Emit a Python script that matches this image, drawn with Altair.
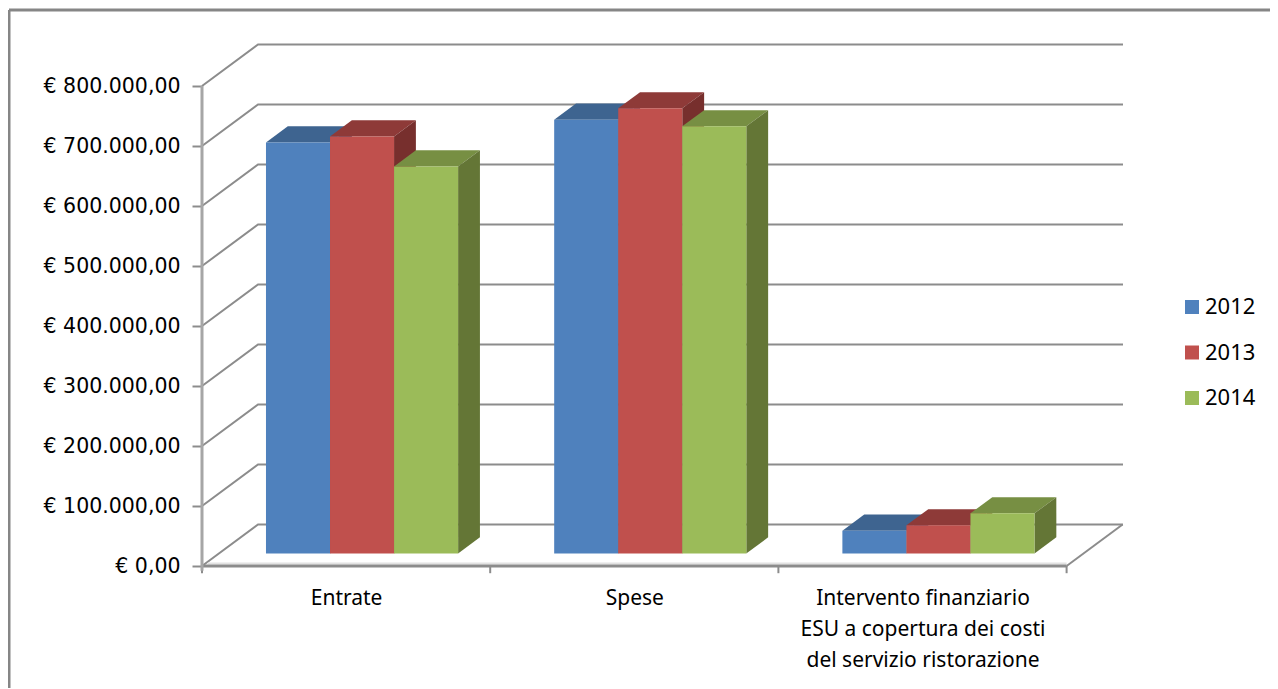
import altair as alt
import pandas as pd

categories = ["Entrate", "Spese", "Intervento finanziario|ESU a copertura dei costi|del servizio ristorazione"]
years = ["2012", "2013", "2014"]
values_2012 = [685000, 723000, 38000]
values_2013 = [695000, 742000, 47000]
values_2014 = [645000, 712000, 67000]
y_ticks = [0, 100000, 200000, 300000, 400000, 500000, 600000, 700000, 800000]
front_colors = ["#4F81BD", "#C0504D", "#9BBB59"]
top_colors = ["#3E6490", "#8E3A38", "#778F43"]
side_colors = ["#375A84", "#772F2D", "#647636"]

FONT = "Noto Sans"
GRID = "#8C8C8C"
PLOT_W, PLOT_H = 921, 522
CAT_PX = 288.2
X_MAX = PLOT_W / CAT_PX
Y_MAX = 870000
# oblique projection of the depth axis, in data units
DX = 56 / CAT_PX
DY = 41.5 / 0.0006
BAR_D0, BAR_D1 = 0.30, 0.69
BAR_START, BAR_W = 0.222, 0.2222

series = [values_2012, values_2013, values_2014]

x_scale = alt.Scale(domain=[0, X_MAX], nice=False, zero=False)
y_scale = alt.Scale(domain=[0, Y_MAX], nice=False, zero=False)
X = alt.X("x:Q", scale=x_scale, title=None,
          axis=alt.Axis(values=[0.5, 1.5, 2.5], ticks=False, domain=False, grid=False,
                        labelFont=FONT, labelFontSize=21, labelColor="#000000", labelPadding=21,
                        labelLineHeight=31, labelAngle=0, labelOverlap=False, labelLimit=500,
                        labelExpr="split(" + repr(categories) + "[floor(datum.value)], '|')"))
Y = alt.Y("y:Q", scale=y_scale, title=None,
          axis=alt.Axis(values=y_ticks, domain=False, grid=False, tickColor=GRID, tickWidth=2, tickSize=10,
                        labelFont="DejaVu Sans", labelFontSize=20.5, labelColor="#000000", labelPadding=12,
                        labelLimit=300,
                        labelExpr="datum.value == 0 ? '€ 0,00' : '€ ' + datum.value / 1000 + '.000,00'"))

fronts, face_layers, grid_rows = [], [], []
for c in range(len(categories)):
    for s, year in enumerate(years):
        v = series[s][c]
        x0 = c + BAR_START + s * BAR_W
        x1 = x0 + BAR_W
        base = BAR_D0 * DY
        top = v + base
        fx = (BAR_D1 - BAR_D0) * DX
        fy = (BAR_D1 - BAR_D0) * DY
        fronts.append(dict(year=year, x=x0, x2=x1, y=base, y2=top))
        top_face = pd.DataFrame([
            dict(x=x0, y=top, lo=top),
            dict(x=x0 + fx, y=top + fy, lo=top),
            dict(x=x1, y=top + fy, lo=top),
            dict(x=x1 + fx, y=top + fy, lo=top + fy),
        ])
        side_face = pd.DataFrame([
            dict(x=x1, y=top, lo=base),
            dict(x=x1 + fx, y=top + fy, lo=base + fy),
        ])
        face_layers.append(alt.Chart(top_face).mark_area(color=top_colors[s], interpolate="linear").encode(x=X, y=Y, y2="lo:Q"))
        face_layers.append(alt.Chart(side_face).mark_area(color=side_colors[s], interpolate="linear").encode(x=X, y=Y, y2="lo:Q"))

for t in y_ticks:
    grid_rows += [
        dict(t=t, x=0, y=t, o=0),
        dict(t=t, x=DX, y=t + DY, o=1),
        dict(t=t, x=X_MAX, y=t + DY, o=2),
    ]

grid = alt.Chart(pd.DataFrame(grid_rows)).mark_line(color=GRID, strokeWidth=2, interpolate="linear").encode(
    x=X, y=Y, detail="t:N", order="o:Q")

floor_right = alt.Chart(pd.DataFrame([dict(x=3, y=0, o=0), dict(x=3 + DX, y=DY, o=1)])).mark_line(
    color=GRID, strokeWidth=2).encode(x=X, y=Y, order="o:Q")

floor_band = alt.Chart(pd.DataFrame([dict(x=0.02, x2=3, y=4000)])).mark_rule(color="#E2E2E2", strokeWidth=2).encode(
    x=X, x2="x2:Q", y=Y)
floor_front = alt.Chart(pd.DataFrame([dict(x=0, x2=3, y=0)])).mark_rule(color=GRID, strokeWidth=3).encode(
    x=X, x2="x2:Q", y=Y)
x_ticks = alt.Chart(pd.DataFrame([dict(x=i, y=0, y2=-12000) for i in range(4)])).mark_rule(
    color=GRID, strokeWidth=2).encode(x=X, y=Y, y2="y2:Q")
y_line = alt.Chart(pd.DataFrame([dict(x=0, y=-8000, y2=800000)])).mark_rule(color="#A6A6A6", strokeWidth=3).encode(
    x=X, y=Y, y2="y2:Q")

front_layer = alt.Chart(pd.DataFrame(fronts)).mark_rect(strokeWidth=0).encode(
    x=X, x2="x2:Q", y=Y, y2="y2:Q",
    color=alt.Color("year:N", scale=alt.Scale(domain=years, range=front_colors),
                    legend=alt.Legend(title=None, orient="none", legendX=979, legendY=252,
                                      symbolType="square", symbolSize=196, symbolStrokeWidth=0,
                                      labelFont=FONT, labelFontSize=22, labelColor="#000000",
                                      labelOffset=2, rowPadding=23.5, padding=0)),
)

one = pd.DataFrame([dict(k=1)])
frame_left = alt.Chart(one).mark_rule(color="#868686", strokeWidth=3).encode(
    x=alt.value(-193), y=alt.value(-34), y2=alt.value(645))
frame_top = alt.Chart(one).mark_rule(color="#868686", strokeWidth=3).encode(
    x=alt.value(-193), x2=alt.value(1068), y=alt.value(-34))

chart = alt.layer(grid, floor_right, floor_band, floor_front, x_ticks, y_line, *face_layers, front_layer, frame_left, frame_top).properties(
    width=PLOT_W, height=PLOT_H,
    autosize=alt.AutoSizeParams(type="none"),
    padding={"left": 194, "top": 36, "right": 147, "bottom": 122},
    background="#FFFFFF",
).configure_view(stroke=None)

chart.save("out.html", embed_options={"renderer": "svg", "actions": False})
